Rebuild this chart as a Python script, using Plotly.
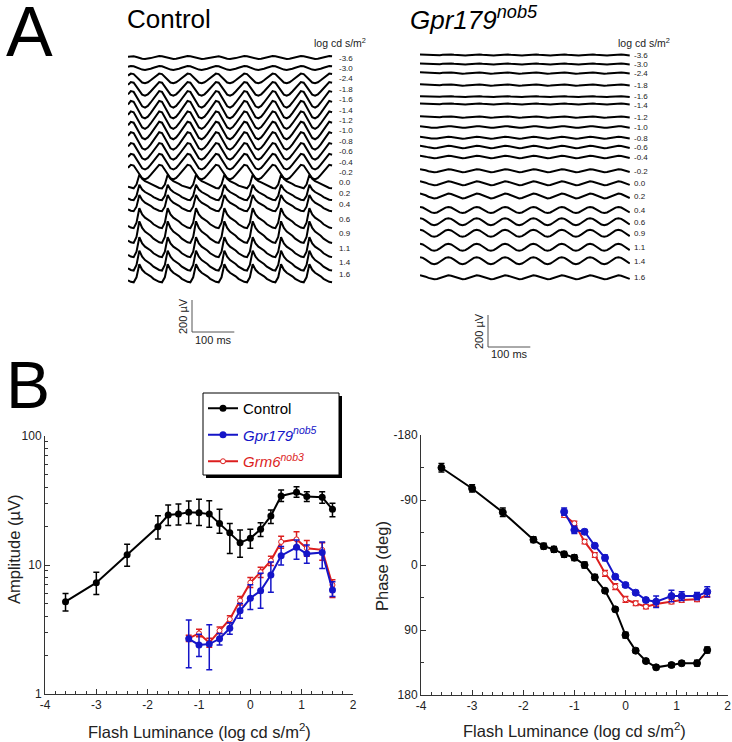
import plotly.graph_objects as go

W, H = 732, 742

# flash luminance steps (log cd s/m^2)
lum = [-3.6, -3.0, -2.4, -1.8, -1.6, -1.4, -1.2, -1.0, -0.8, -0.6,
       -0.4, -0.2, 0.0, 0.2, 0.4, 0.6, 0.9, 1.1, 1.4, 1.6]
lum_labels = ["-3.6", "-3.0", "-2.4", "-1.8", "-1.6", "-1.4", "-1.2", "-1.0", "-0.8", "-0.6",
              "-0.4", "-0.2", "0.0", "0.2", "0.4", "0.6", "0.9", "1.1", "1.4", "1.6"]
lum_mut = lum[6:]

# amplitude (uV) with upper / lower error
ctrl_amp = [5.2, 7.3, 12.0, 19.8, 24.4, 24.8, 25.6, 25.4, 24.8, 21.0,
            17.8, 14.9, 16.1, 18.9, 24.0, 34.3, 36.6, 33.9, 33.5, 27.0]
ctrl_amp_hi = [0.8, 1.5, 2.5, 4.3, 4.8, 4.9, 5.7, 6.9, 6.7, 6.0,
               3.2, 3.8, 2.8, 2.4, 2.7, 3.8, 3.8, 3.1, 3.5, 3.1]
ctrl_amp_lo = [0.8, 1.4, 2.2, 3.9, 4.2, 4.4, 4.6, 5.2, 5.2, 3.4,
               5.5, 3.4, 2.6, 2.3, 3.0, 3.3, 3.1, 2.9, 3.4, 3.3]
gpr_amp = [2.68, 2.40, 2.44, 2.68, 3.23, 4.42, 5.52, 6.32, 8.36, 11.8, 13.7, 12.2, 12.5, 6.4]
gpr_amp_hi = [1.07, 0.50, 1.00, 0.27, 0.34, 0.60, 1.50, 2.30, 2.20, 2.1, 1.9, 2.1, 2.6, 1.0]
gpr_amp_lo = [1.08, 0.45, 0.90, 0.28, 0.33, 0.56, 1.00, 1.70, 2.20, 1.8, 2.6, 1.9, 3.1, 0.7]
grm_amp = [2.70, 2.95, 2.50, 3.10, 3.80, 5.30, 7.30, 8.80, 10.8, 15.1, 15.8, 13.5, 13.1, 7.0]
grm_amp_hi = [0.15, 0.22, 0.20, 0.20, 0.25, 0.40, 0.70, 0.80, 0.90, 1.6, 2.3, 2.0, 1.8, 0.7]
grm_amp_lo = [0.15, 0.17, 0.20, 0.15, 0.25, 0.40, 0.60, 0.80, 0.90, 1.6, 1.9, 1.8, 2.2, 1.4]

# phase (deg)
ctrl_phase = [-134.7, -106.0, -73.0, -35.0, -26.0, -21.7, -14.8, -10.2, 0.0, 17.0,
              35.6, 61.4, 97.0, 118.6, 133.0, 141.7, 138.5, 136.0, 136.0, 117.7]
ctrl_phase_err = [6, 5, 6, 4, 4, 4, 4, 4, 4, 4, 3, 3, 4, 3, 3, 3, 3, 3, 4, 4]
gpr_phase = [-73.8, -48.5, -46.0, -26.7, -10.0, 16.2, 27.7, 38.3, 48.5, 50.8, 43.0, 43.0, 43.0, 37.0]
gpr_phase_err = [5, 5, 3, 3, 4, 3, 3, 3, 3, 8, 8, 6, 5, 7]
grm_phase = [-69.0, -57.7, -32.3, -13.8, 11.5, 30.0, 47.5, 53.0, 57.7, 54.0, 50.8, 48.5, 47.5, 41.5]
grm_phase_err = [3, 3, 3, 3, 4, 4, 4, 3, 3, 3, 3, 3, 3, 3]

# ERG flicker traces: one cycle (10 samples) of each waveform type, normalised
PERIOD_MS = 67.0
cyc_mid = [0.55, 0.95, 0.85, 0.3, -0.35, -0.85, -1.0, -0.8, -0.4, 0.1]
cyc_bright = [-0.6, -0.75, -0.8, -0.3, 1.0, 0.45, 0.15, 0.0, -0.2, -0.45]
cyc_mut = [1.0, 0.8, 0.3, -0.3, -0.8, -1.0, -0.8, -0.3, 0.3, 0.8]
# peak-to-peak (uV) of each trace
ctrl_pp = [19, 25, 62, 88, 106, 112, 112, 112, 112, 106,
           100, 94, 94, 106, 112, 138, 150, 138, 138, 125]
ctrl_kind = ["mid"] * 12 + ["bright"] * 8
mut_pp = [6, 6, 8, 8, 6, 6, 8, 10, 12, 15, 15, 19, 25, 31, 38, 44, 44, 44, 44, 25]

# ---- layout helpers (pixel positions in the 732x742 page) ----
UV_PER_PX = 6.25
MS_PER_PX = 2.364
TOP_Y0, TOP_Y1 = 30, 360


def py(px):
    return 1 - px / H


def px_uv(px):
    return (TOP_Y0 - px) * UV_PER_PX


ctrl_base_px = [57.5, 67.9, 78.3, 88.7, 99.1, 109.5, 119.9, 130.3, 140.7, 151.1,
                161.5, 171.9, 182.3, 193.3, 204.0, 219.3, 233.3, 248.3, 261.7, 274.3]
mut_base_px = [55.0, 64.0, 73.0, 85.0, 96.7, 104.0, 117.0, 127.0, 137.7, 147.0,
               157.0, 170.7, 183.3, 196.0, 210.0, 221.7, 233.3, 247.3, 260.7, 277.3]
mut_label_px = [55.0, 64.0, 73.0, 85.0, 95.5, 105.0, 117.0, 127.0, 137.7, 147.0,
                157.0, 170.7, 183.3, 196.0, 210.0, 221.7, 233.3, 247.3, 260.7, 277.3]
CTRL_X0, CTRL_X1 = 128, 333
MUT_X0, MUT_X1 = 420, 630

fig = go.Figure()

cycles = {"mid": cyc_mid, "bright": cyc_bright, "mut": cyc_mut}


def add_trace_set(pp_list, kinds, bases, length_ms, xa, ya):
    dt = PERIOD_MS / 10
    n = int(length_ms / dt) + 1
    t = [i * dt for i in range(n)]
    for pp, kind, base in zip(pp_list, kinds, bases):
        cyc = cycles[kind]
        y = [px_uv(base) + pp / 2 * cyc[i % 10] for i in range(n)]
        fig.add_trace(go.Scatter(x=t, y=y, mode="lines", line=dict(color="black", width=2),
                                 xaxis=xa, yaxis=ya, showlegend=False, hoverinfo="skip"))


ctrl_len = (CTRL_X1 - CTRL_X0) * MS_PER_PX
mut_len = (MUT_X1 - MUT_X0) * MS_PER_PX
add_trace_set(ctrl_pp, ctrl_kind, ctrl_base_px, ctrl_len, "x3", "y3")
add_trace_set(mut_pp, ["mut"] * 20, mut_base_px, mut_len, "x4", "y4")

# scale bars (200 uV, 100 ms)
for xa, ya, x0px, x_origin, y0px in [("x3", "y3", 192, CTRL_X0, 332), ("x4", "y4", 488, MUT_X0, 347)]:
    t0 = (x0px - x_origin) * MS_PER_PX
    yb = px_uv(y0px)
    fig.add_trace(go.Scatter(x=[t0, t0, t0 + 100], y=[yb + 200, yb, yb], mode="lines",
                             line=dict(color="#555", width=1), xaxis=xa, yaxis=ya,
                             showlegend=False, hoverinfo="skip", cliponaxis=False))

BLACK, BLUE, RED = "black", "#1515c8", "#dc1e1e"

# amplitude panel
fig.add_trace(go.Scatter(
    x=lum, y=ctrl_amp, mode="lines+markers", name="Control", legendrank=1, legendgroup="c",
    line=dict(color=BLACK, width=2), marker=dict(color=BLACK, size=7),
    error_y=dict(type="data", symmetric=False, array=ctrl_amp_hi, arrayminus=ctrl_amp_lo,
                 color=BLACK, thickness=1.5, width=3),
    xaxis="x", yaxis="y"))
fig.add_trace(go.Scatter(
    x=lum_mut, y=grm_amp, mode="lines+markers", legendrank=3, legendgroup="r",
    name="<span style='color:#dc1e1e'><i>Grm6<sup>nob3</sup></i></span>",
    line=dict(color=RED, width=2), marker=dict(color="white", size=5, symbol="circle",
                                               line=dict(color=RED, width=1)),
    error_y=dict(type="data", symmetric=False, array=grm_amp_hi, arrayminus=grm_amp_lo,
                 color=RED, thickness=1.5, width=3),
    xaxis="x", yaxis="y"))
fig.add_trace(go.Scatter(
    x=lum_mut, y=gpr_amp, mode="lines+markers", legendrank=2, legendgroup="b",
    name="<span style='color:#1515c8'><i>Gpr179<sup>nob5</sup></i></span>",
    line=dict(color=BLUE, width=2), marker=dict(color=BLUE, size=7),
    error_y=dict(type="data", symmetric=False, array=gpr_amp_hi, arrayminus=gpr_amp_lo,
                 color=BLUE, thickness=1.5, width=3),
    xaxis="x", yaxis="y"))

# phase panel
for xs, ys, err, col, filled in [(lum, ctrl_phase, ctrl_phase_err, BLACK, True),
                                 (lum_mut, grm_phase, grm_phase_err, RED, False),
                                 (lum_mut, gpr_phase, gpr_phase_err, BLUE, True)]:
    fig.add_trace(go.Scatter(
        x=xs, y=ys, mode="lines+markers", showlegend=False,
        line=dict(color=col, width=2),
        marker=dict(color=col if filled else "white", size=7 if filled else 5,
                    line=dict(color=col, width=1)),
        error_y=dict(type="data", array=err, color=col, thickness=1.5, width=3),
        xaxis="x2", yaxis="y2"))

tickfont = dict(family="Liberation Sans, Arial", size=12, color="#222")
ax_common = dict(showline=True, linecolor="#333", linewidth=1, ticks="inside", ticklen=5,
                 tickcolor="#333", showgrid=False, zeroline=False, tickfont=tickfont,
                 automargin=False)
minor_log = [2, 3, 4, 5, 6, 7, 8, 9, 20, 30, 40, 50, 60, 70, 80, 90]
hidden = dict(visible=False, automargin=False, showgrid=False, zeroline=False)
x_ticks = dict(tickvals=[-4, -3, -2, -1, 0, 1, 2], ticktext=["-4", "-3", "-2", "-1", "0", "1", "2"])

fig.update_layout(
    width=W, height=H, margin=dict(l=0, r=0, t=0, b=0, pad=0, autoexpand=False),
    paper_bgcolor="white", plot_bgcolor="white",
    font=dict(family="Liberation Sans, Arial", color="black"),
    xaxis=dict(domain=[45 / W, 353 / W], range=[-4, 2], anchor="y", **x_ticks,
               minor=dict(dtick=0.2, ticks="inside", ticklen=3, tickcolor="#333"), **ax_common),
    yaxis=dict(domain=[py(694), py(436)], type="log", range=[0, 2], anchor="x",
               tickvals=[1, 10, 100], ticktext=["1", "10", "100"],
               minor=dict(tickvals=minor_log, ticks="inside", ticklen=3, tickcolor="#333"),
               **ax_common),
    xaxis2=dict(domain=[421 / W, 727.7 / W], range=[-4, 2], anchor="y2", **x_ticks,
                minor=dict(dtick=0.2, ticks="inside", ticklen=3, tickcolor="#333"), **ax_common),
    yaxis2=dict(domain=[py(695), py(435)], range=[180, -180], anchor="x2",
                tickvals=[-180, -90, 0, 90, 180], ticktext=["-180", "-90", "0", "90", "180"],
                minor=dict(dtick=45, ticks="inside", ticklen=3, tickcolor="#333"), **ax_common),
    xaxis3=dict(domain=[CTRL_X0 / W, CTRL_X1 / W], range=[0, ctrl_len], anchor="y3", **hidden),
    yaxis3=dict(domain=[py(TOP_Y1), py(TOP_Y0)], range=[px_uv(TOP_Y1), 0], anchor="x3", **hidden),
    xaxis4=dict(domain=[MUT_X0 / W, MUT_X1 / W], range=[0, mut_len], anchor="y4", **hidden),
    yaxis4=dict(domain=[py(TOP_Y1), py(TOP_Y0)], range=[px_uv(TOP_Y1), 0], anchor="x4", **hidden),
    legend=dict(x=203 / W, y=py(392), xanchor="left", yanchor="top",
                bgcolor="rgba(0,0,0,0)", borderwidth=0,
                font=dict(family="Liberation Sans, Arial", size=15, color="black"),
                itemwidth=30, tracegroupgap=4),
    showlegend=True,
)

# legend box with drop shadow
fig.add_shape(type="rect", xref="paper", yref="paper", x0=206 / W, x1=342 / W,
              y0=py(478), y1=py(396), fillcolor="black", line=dict(width=0), layer="below")
fig.add_shape(type="rect", xref="paper", yref="paper", x0=203 / W, x1=339 / W,
              y0=py(475), y1=py(393), fillcolor="white", line=dict(color="black", width=1),
              layer="below")

ann = []


def text(x, y, s, size, **kw):
    d = dict(x=x / W, y=py(y), xref="paper", yref="paper", text=s, showarrow=False,
             font=dict(family="Liberation Sans, Arial", size=size, color=kw.pop("color", "black")))
    d.update(kw)
    ann.append(d)


text(4, 32, "A", 70, xanchor="left", yanchor="middle")
text(4, 385, "B", 66, xanchor="left", yanchor="middle")
text(125, 19, "Control", 26, xanchor="left", yanchor="middle")
text(408, 19, "<i>Gpr179<sup>nob5</sup></i>", 26, xanchor="left", yanchor="middle")
text(312, 43, "log cd s/m<sup>2</sup>", 10.5, xanchor="left", yanchor="middle", color="#222")
text(616, 43, "log cd s/m<sup>2</sup>", 10.5, xanchor="left", yanchor="middle", color="#222")
for lab, yc, ym in zip(lum_labels, ctrl_base_px, mut_label_px):
    text(337, yc + 0.5, lab, 8, xanchor="left", yanchor="middle", color="#222")
    text(632, ym + 0.5, lab, 8, xanchor="left", yanchor="middle", color="#222")
text(183, 316, "200 \u00b5V", 11, textangle=-90, xanchor="center", yanchor="middle", color="#222")
text(213, 340, "100 ms", 11, xanchor="center", yanchor="middle", color="#222")
text(479, 331, "200 \u00b5V", 11, textangle=-90, xanchor="center", yanchor="middle", color="#222")
text(509, 354, "100 ms", 11, xanchor="center", yanchor="middle", color="#222")
text(14, 550, "Amplitude (\u00b5V)", 16.5, textangle=-90, xanchor="center", yanchor="middle", color="#222")
text(382, 566, "Phase (deg)", 16.5, textangle=-90, xanchor="center", yanchor="middle", color="#222")
text(199, 731, "Flash Luminance (log cd s/m<sup>2</sup>)", 16.5, xanchor="center", yanchor="middle", color="#222")
text(574, 730, "Flash Luminance (log cd s/m<sup>2</sup>)", 16.5, xanchor="center", yanchor="middle", color="#222")
fig.update_layout(annotations=ann)

# the page body has a default 8px margin; drop it so the figure sits at the window origin
fig.write_html("out.html", config={"displayModeBar": False},
               post_script="document.body.style.margin='0';")
